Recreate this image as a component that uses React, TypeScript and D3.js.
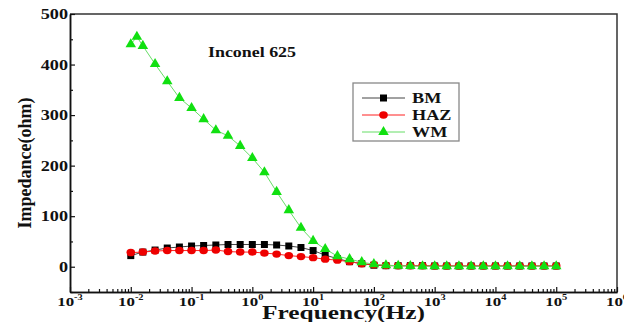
import * as React from 'react'
import { useEffect, useRef } from 'react'
import * as d3 from 'd3'

// frequency (Hz), 5 points per decade
const freq = [
  0.01, 0.0158, 0.0251, 0.0398, 0.0631,
  0.1, 0.158, 0.251, 0.398, 0.631,
  1, 1.58, 2.51, 3.98, 6.31,
  10, 15.8, 25.1, 39.8, 63.1,
  100, 158, 251, 398, 631,
  1000, 1580, 2510, 3980, 6310,
  10000, 15800, 25100, 39800, 63100,
  100000,
]
// WM has one extra reading near 0.0126 Hz
const wmFreq = [
  0.01, 0.0126, 0.0158, 0.0251, 0.0398, 0.0631,
  0.1, 0.158, 0.251, 0.398, 0.631,
  1, 1.58, 2.51, 3.98, 6.31,
  10, 15.8, 25.1, 39.8, 63.1,
  100, 158, 251, 398, 631,
  1000, 1580, 2510, 3980, 6310,
  10000, 15800, 25100, 39800, 63100,
  100000,
]

const bm = [
  22, 29, 33, 37, 39, 41, 42, 43, 44, 44, 44, 44, 43, 41, 38, 32, 23, 16, 10, 6,
  3, 2, 2, 2, 2, 1.5, 1.5, 1.5, 1.5, 1.5, 1.5, 1.5, 1.5, 1.5, 1.5, 1.5,
]
const haz = [
  28, 29, 31, 32, 32, 32, 32, 33, 30, 29, 29, 27, 25, 22, 20, 18, 15, 13, 10, 6,
  4, 2.5, 2, 2, 2, 1.5, 1.5, 1.5, 1.5, 1.5, 1.5, 1.5, 1.5, 1.5, 1.5, 1.5,
]
const wm = [
  440, 455, 437, 401, 367, 334, 314, 292, 270, 259, 239, 215, 187, 148, 112, 77, 51,
  35, 21, 15, 9, 5, 3, 2, 1.5, 1, 1, 1, 1, 1, 1, 1, 1, 1, 1, 1, 1,
]

const yMajor = [0, 100, 200, 300, 400, 500]
const yMinor = [-50, 50, 150, 250, 350, 450]
const xDecades = [-3, -2, -1, 0, 1, 2, 3, 4, 5, 6]
const legendItems = ['BM', 'HAZ', 'WM']

const FONT = '"Liberation Serif", "Times New Roman", serif'

export default function App() {
  const svgRef = useRef<SVGSVGElement>(null)
  const width = 624
  const height = 322
  const marginLeft = 70
  const marginRight = 7
  const marginTop = 14
  const marginBottom = 30

  useEffect(() => {
    if (!svgRef.current) return
    const svg = d3.select(svgRef.current)
    svg.selectAll('*').remove()

    const x = d3.scaleLog().domain([1e-3, 1e6]).range([marginLeft, width - marginRight])
    const y = d3.scaleLinear().domain([-50, 500]).range([height - marginBottom, marginTop])
    const x0 = marginLeft
    const x1 = width - marginRight
    const y0 = height - marginBottom
    const y1 = marginTop

    // stretched bold serif text (the source image is widened)
    const label = (g: any, px: number, py: number, text: string, size: number, anchor: string, sx = 1.3) =>
      g.append('text')
        .attr('transform', `translate(${px},${py}) scale(${sx},1)`)
        .attr('text-anchor', anchor)
        .attr('font-family', FONT)
        .attr('font-weight', 'bold')
        .attr('font-size', size)
        .attr('fill', '#111')
        .text(text)

    // frame
    svg.append('path')
      .attr('d', `M${x0},${y1}H${x1}V${y0}`)
      .attr('fill', 'none')
      .attr('stroke', '#333')
      .attr('stroke-width', 1.5)

    // y axis
    const yAxis = svg.append('g').attr('transform', `translate(${x0},0)`)
    yAxis.call(d3.axisLeft(y).tickValues(yMajor).tickSizeInner(-5).tickSizeOuter(0).tickFormat(() => '') as any)
    yAxis.append('g').call(d3.axisLeft(y).tickValues(yMinor).tickSizeInner(-3).tickSizeOuter(0).tickFormat(() => '') as any)
    yAxis.selectAll('path.domain').attr('stroke', '#111').attr('stroke-width', 1.5)
    yAxis.selectAll('.tick line').attr('stroke', '#111').attr('stroke-width', 1.2)
    yMajor.forEach(v => label(svg, x0 - 2, y(v) + 5, String(v), 14, 'end'))

    // x axis
    const minors: number[] = []
    xDecades.slice(0, -1).forEach(d => {
      for (let m = 2; m <= 9; m++) minors.push(m * Math.pow(10, d))
    })
    const xAxis = svg.append('g').attr('transform', `translate(0,${y0})`)
    xAxis.call(d3.axisBottom(x).tickValues(xDecades.map(d => Math.pow(10, d))).tickSizeInner(-5).tickSizeOuter(0).tickFormat(() => '') as any)
    xAxis.append('g').call(d3.axisBottom(x).tickValues(minors).tickSizeInner(-3).tickSizeOuter(0).tickFormat(() => '') as any)
    xAxis.selectAll('path.domain').attr('stroke', '#111').attr('stroke-width', 1.5)
    xAxis.selectAll('.tick line').attr('stroke', '#111').attr('stroke-width', 1.2)
    xDecades.forEach(d => {
      const t = label(svg, x(Math.pow(10, d)), y0 + 14, '10', 13, 'middle')
      t.append('tspan').attr('dy', -6).attr('font-size', 8).text(String(d))
    })

    // axis titles
    svg.append('text')
      .attr('x', (x0 + x1) / 2)
      .attr('y', 319)
      .attr('text-anchor', 'middle')
      .attr('font-family', FONT)
      .attr('font-weight', 'bold')
      .attr('font-size', 18)
      .attr('textLength', 163)
      .attr('lengthAdjust', 'spacingAndGlyphs')
      .attr('fill', '#111')
      .text('Frequency(Hz)')

    svg.append('text')
      .attr('transform', `translate(31,${(y1 + y0) / 2 + 10}) rotate(-90)`)
      .attr('text-anchor', 'middle')
      .attr('font-family', FONT)
      .attr('font-weight', 'bold')
      .attr('font-size', 18)
      .attr('fill', '#111')
      .text('Impedance(ohm)')

    // title
    svg.append('text')
      .attr('x', 208)
      .attr('y', 57)
      .attr('font-family', FONT)
      .attr('font-weight', 'bold')
      .attr('font-size', 15)
      .attr('textLength', 88)
      .attr('lengthAdjust', 'spacingAndGlyphs')
      .attr('fill', '#111')
      .text('Inconel 625')

    const series = [
      { name: 'BM', xs: freq, ys: bm, line: '#444', fill: '#000', shape: 'square' },
      { name: 'HAZ', xs: freq, ys: haz, line: '#ff2020', fill: '#ee0000', shape: 'circle' },
      { name: 'WM', xs: wmFreq, ys: wm, line: '#66dd66', fill: '#11e011', shape: 'triangle' },
    ]

    const drawMarker = (g: any, shape: string, cx: number, cy: number, fill: string) => {
      if (shape === 'circle') {
        g.append('ellipse').attr('cx', cx).attr('cy', cy).attr('rx', 4.3).attr('ry', 3.7).attr('fill', fill)
      } else {
        const sym = d3.symbol().type(shape === 'square' ? d3.symbolSquare : d3.symbolTriangle).size(shape === 'square' ? 49 : 48)
        g.append('path').attr('transform', `translate(${cx},${cy})`).attr('d', sym()).attr('fill', fill)
      }
    }

    const plot = svg.append('g')
    series.forEach(s => {
      const pts = s.xs.map((f, i) => [x(f), y(s.ys[i])] as [number, number])
      plot.append('path')
        .attr('d', d3.line()(pts))
        .attr('fill', 'none')
        .attr('stroke', s.line)
        .attr('stroke-width', 1)
      pts.forEach(p => drawMarker(plot, s.shape, p[0], p[1], s.fill))
    })

    // legend
    const lg = svg.append('g')
    lg.append('rect')
      .attr('x', 353).attr('y', 83).attr('width', 106).attr('height', 58)
      .attr('fill', '#fff').attr('stroke', '#888').attr('stroke-width', 1.3)
    legendItems.forEach((name, i) => {
      const s = series.find(d => d.name === name)!
      const cy = 98 + i * 17
      lg.append('line').attr('x1', 362).attr('x2', 405).attr('y1', cy).attr('y2', cy)
        .attr('stroke', s.line).attr('stroke-width', 1)
      drawMarker(lg, s.shape, 383.5, cy, s.fill)
      label(lg, 412, cy + 5, name, 14, 'start')
    })
  }, [])

  return (
    <svg
      ref={svgRef}
      width={width}
      height={height}
      style={{ position: 'absolute', left: 0, top: 0, background: '#fff' }}
    />
  )
}
